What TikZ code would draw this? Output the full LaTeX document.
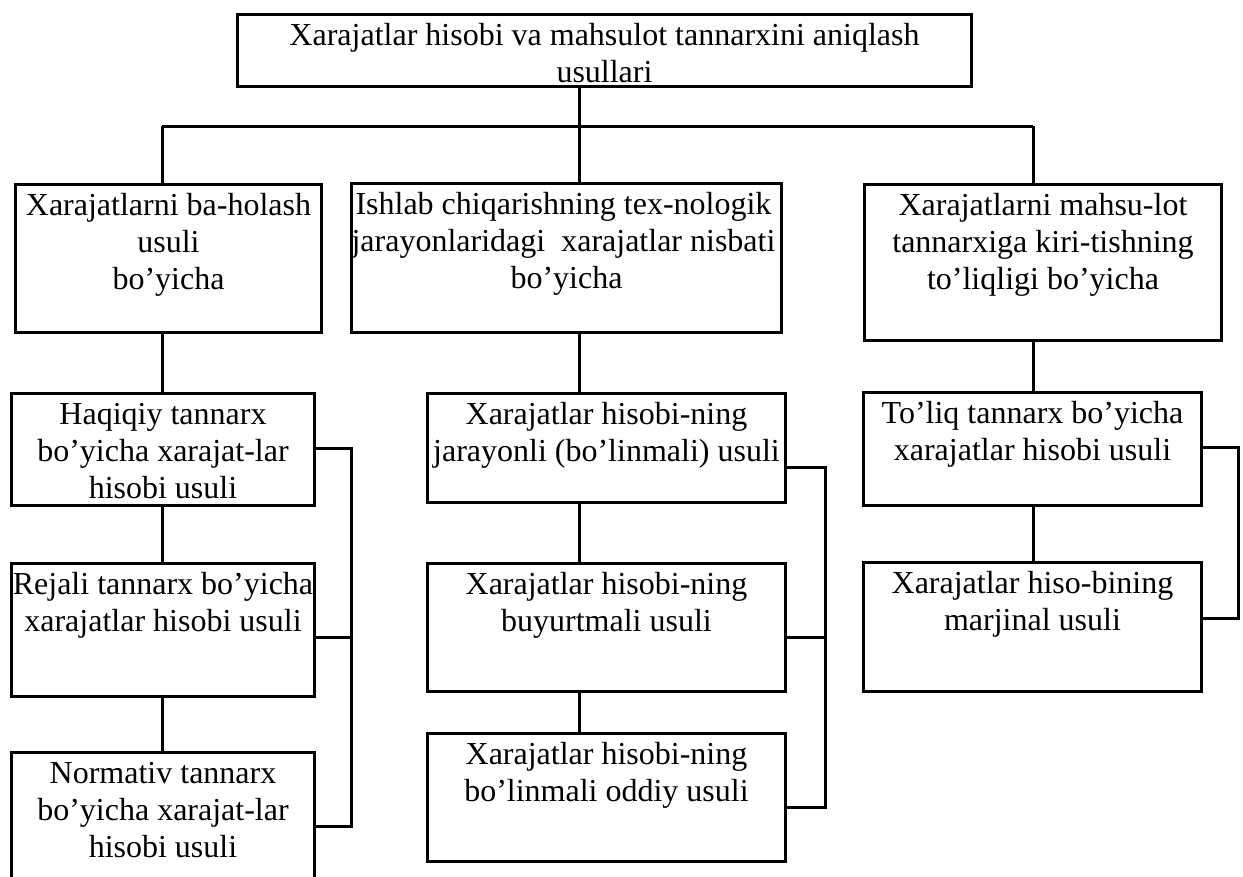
\documentclass[tikz,border=0pt]{standalone}
\usepackage{fontspec}
\setmainfont{Liberation Serif}
\begin{document}
\begin{tikzpicture}[x=1pt,y=-1pt,
  cellbox/.style={draw, line width=3pt, inner sep=0pt, outer sep=0pt, anchor=north west},
  link/.style={line width=3pt}]
\useasboundingbox (0,0) rectangle (1243,876);
\newcommand\celltext[3]{\parbox[c][#2pt][t]{#1pt}{\fontsize{32}{37}\selectfont\centering\rule{0pt}{30.5pt}#3\par}}

% top box
\node[cellbox] (top) at (237.5,14.5) {\celltext{734}{72}{Xarajatlar hisobi va mahsulot tannarxini aniqlash\\ usullari}};

% level-one boxes
\node[cellbox] (L0) at (15.5,184.5) {\celltext{306}{148}{Xarajatlarni ba-holash\\ usuli\\ bo’yicha}};
\node[cellbox] (M0) at (351.5,183.5) {\celltext{430}{149}{\hspace*{-6pt}Ishlab chiqarishning tex-nologik\hspace*{-6pt}\\ \hspace*{-6pt}jarayonlaridagi\ \ xarajatlar nisbati\hspace*{-6pt}\\ bo’yicha}};
\node[cellbox] (R0) at (864.5,184.5) {\celltext{357}{156}{Xarajatlarni mahsu-lot\\ tannarxiga kiri-tishning\\ to’liqligi bo’yicha}};

% left column
\node[cellbox] (L1) at (11.5,393.5) {\celltext{303}{112}{Haqiqiy tannarx\\ bo’yicha xarajat-lar\\ hisobi usuli}};
\node[cellbox] (L2) at (11.5,563.5) {\celltext{303}{133}{Rejali tannarx bo’yicha\\ xarajatlar hisobi usuli}};
\node[cellbox] (L3) at (11.5,752.5) {\celltext{303}{148}{Normativ tannarx\\ bo’yicha xarajat-lar\\ hisobi usuli}};

% middle column
\node[cellbox] (M1) at (427.5,393.5) {\celltext{358}{109}{Xarajatlar hisobi-ning\\ jarayonli (bo’linmali) usuli}};
\node[cellbox] (M2) at (427.5,563.5) {\celltext{358}{128}{Xarajatlar hisobi-ning\\ buyurtmali usuli}};
\node[cellbox] (M3) at (427.5,733.5) {\celltext{358}{128}{Xarajatlar hisobi-ning\\ bo’linmali oddiy usuli}};

% right column
\node[cellbox] (R1) at (863.5,392.5) {\celltext{338}{113}{To’liq tannarx bo’yicha\\ xarajatlar hisobi usuli}};
\node[cellbox] (R2) at (863.5,562.5) {\celltext{338}{129}{Xarajatlar hiso-bining\\ marjinal usuli}};

% spine positions
\coordinate (lx) at (162,0);
\coordinate (mx) at (579,0);
\coordinate (rx) at (1033,0);
\coordinate (bar) at (0,126);
% bracket positions
\coordinate (lb) at (351,0);
\coordinate (mb) at (825,0);
\coordinate (rb) at (1238,0);
\coordinate (la) at (0,448);
\coordinate (lc) at (0,637);
\coordinate (ld) at (0,826);
\coordinate (ma) at (0,467);
\coordinate (mc) at (0,637);
\coordinate (md) at (0,807);
\coordinate (ra) at (0,447);
\coordinate (rc) at (0,618);

% tree from the top box
\draw[link] (top.south -| mx) -- (bar -| mx);
\draw[link] (bar -| lx) -- (bar -| rx);
\draw[link] (bar -| lx) -- (L0.north -| lx);
\draw[link] (bar -| mx) -- (M0.north -| mx);
\draw[link] (bar -| rx) -- (R0.north -| rx);

% column chains
\draw[link] (L0.south -| lx) -- (L1.north -| lx);
\draw[link] (L1.south -| lx) -- (L2.north -| lx);
\draw[link] (L2.south -| lx) -- (L3.north -| lx);
\draw[link] (M0.south -| mx) -- (M1.north -| mx);
\draw[link] (M1.south -| mx) -- (M2.north -| mx);
\draw[link] (M2.south -| mx) -- (M3.north -| mx);
\draw[link] (R0.south -| rx) -- (R1.north -| rx);
\draw[link] (R1.south -| rx) -- (R2.north -| rx);

% side brackets
\draw[link] (L1.east |- la) -- (lb |- la) -- (lb |- ld) -- (L3.east |- ld);
\draw[link] (L2.east |- lc) -- (lb |- lc);
\draw[link] (M1.east |- ma) -- (mb |- ma) -- (mb |- md) -- (M3.east |- md);
\draw[link] (M2.east |- mc) -- (mb |- mc);
\draw[link] (R1.east |- ra) -- (rb |- ra) -- (rb |- rc) -- (R2.east |- rc);
\end{tikzpicture}
\end{document}
